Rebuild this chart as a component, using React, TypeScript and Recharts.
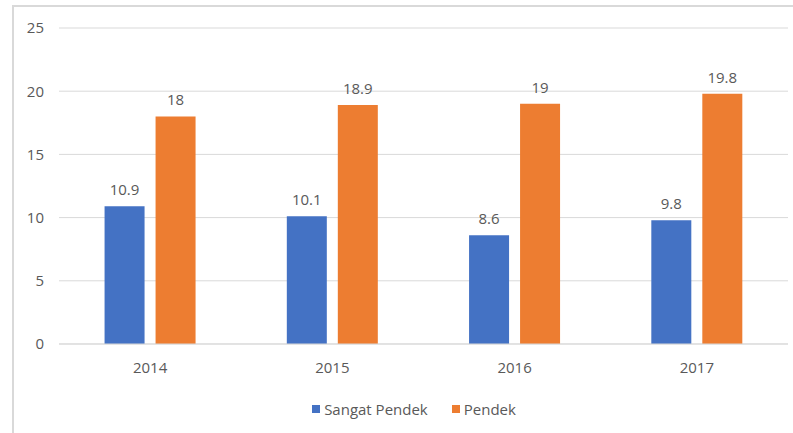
import React from 'react';
import { BarChart, Bar, XAxis, YAxis, CartesianGrid, Legend, LabelList } from 'recharts';

const years = ['2014', '2015', '2016', '2017'];
const sangatPendek = [10.9, 10.1, 8.6, 9.8];
const pendek = [18, 18.9, 19, 19.8];
const yTicks = [0, 5, 10, 15, 20, 25];

const TEXT = '#595959';
const GRID = '#d9d9d9';
const BLUE = '#4472C4';
const ORANGE = '#ED7D31';

const seriesList = [
  { key: 'Sangat Pendek', color: BLUE },
  { key: 'Pendek', color: ORANGE },
];

const LegendContent = () => (
  <div style={{ display: 'flex', justifyContent: 'center', alignItems: 'center', fontSize: 15, color: TEXT, paddingLeft: 64 }}>
    {seriesList.map((s) => (
      <div key={s.key} style={{ display: 'flex', alignItems: 'center', marginRight: 24 }}>
        <span style={{ display: 'inline-block', width: 8, height: 8, background: s.color, marginRight: 4 }} />
        <span>{s.key}</span>
      </div>
    ))}
  </div>
);

const App: React.FC = () => {
  const data = years.map((year, i) => ({
    year,
    'Sangat Pendek': sangatPendek[i],
    Pendek: pendek[i],
  }));

  return (
    <div style={{ position: 'absolute', left: 0, top: 0, width: 793, height: 433, background: '#fff', overflow: 'hidden', fontFamily: '"Open Sans", sans-serif' }}>
      <div
        style={{
          position: 'absolute',
          left: 12,
          top: 5,
          width: 800,
          height: 450,
          border: `2px solid ${GRID}`,
          boxSizing: 'border-box',
        }}
      />
      <div style={{ position: 'absolute', left: 0, top: 0 }}>
        <BarChart
          width={793}
          height={433}
          data={data}
          margin={{ top: 28, right: 5, left: 0, bottom: 14 }}
          barCategoryGap="25%"
          barGap={11}
        >
          <CartesianGrid vertical={false} stroke={GRID} />
          <XAxis
            dataKey="year"
            height={55}
            tickLine={false}
            axisLine={{ stroke: GRID }}
            tick={{ fill: TEXT, fontSize: 15 }}
            tickMargin={12}
          />
          <YAxis
            width={59}
            domain={[0, 25]}
            ticks={yTicks}
            tickLine={false}
            axisLine={false}
            tick={{ fill: TEXT, fontSize: 15 }}
            tickMargin={9}
          />
          <Legend verticalAlign="bottom" content={<LegendContent />} />
          <Bar dataKey="Sangat Pendek" fill={BLUE} isAnimationActive={false}>
            <LabelList dataKey="Sangat Pendek" position="top" offset={11} fill={TEXT} fontSize={15} />
          </Bar>
          <Bar dataKey="Pendek" fill={ORANGE} isAnimationActive={false}>
            <LabelList dataKey="Pendek" position="top" offset={11} fill={TEXT} fontSize={15} />
          </Bar>
        </BarChart>
      </div>
    </div>
  );
};

export default App;
